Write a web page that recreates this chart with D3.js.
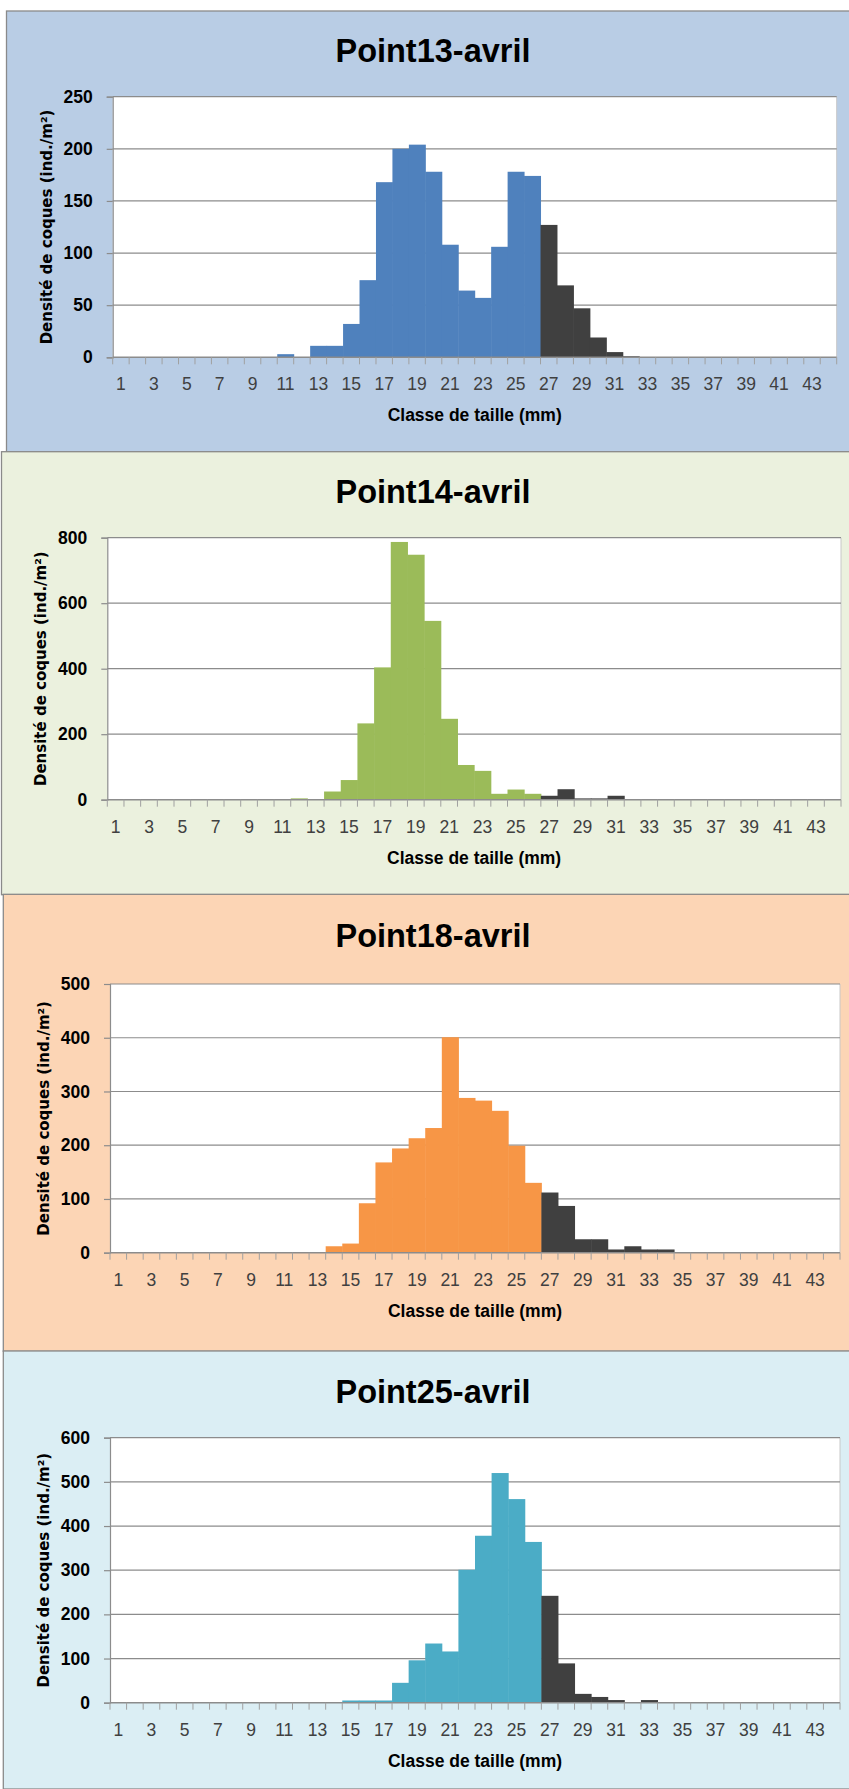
<!DOCTYPE html>
<html lang="fr">
<head>
<meta charset="UTF-8">
<title>Densité de coques</title>
<style>
  body { margin: 0; background: #fff; }
  svg { display: block; }
</style>
</head>
<body>
<script src="https://cdn.jsdelivr.net/npm/d3@7/dist/d3.min.js"></script>
<script>

// size classes (mm) and the labels shown under the axis
var categories = [1,2,3,4,5,6,7,8,9,10,11,12,13,14,15,16,17,18,19,20,21,22,
                  23,24,25,26,27,28,29,30,31,32,33,34,35,36,37,38,39,40,41,42,43,44];
var xTickLabels = [1,3,5,7,9,11,13,15,17,19,21,23,25,27,29,31,33,35,37,39,41,43];

var titles = ["Point13-avril", "Point14-avril", "Point18-avril", "Point25-avril"];

// density below 27 mm (coloured) and from 27 mm (dark), one value per class
var small13 = [0,0,0,0,0,0,0,0,0,0, 3,0,11,11,32,74,168,200,204,178, 108,64,57,106,178,174,
               0,0,0,0,0,0,0,0,0,0,0,0,0,0,0,0,0,0];
var large13 = [0,0,0,0,0,0,0,0,0,0, 0,0,0,0,0,0,0,0,0,0, 0,0,0,0,0,0,
               127,69,47,19,5,1,0,0,0,0,0,0,0,0,0,0,0,0];

var small14 = [0,0,0,0,0,0,0,0,0,0, 0,4,0,25,60,233,404,787,748,546, 247,106,88,18,31,18,
               0,0,0,0,0,0,0,0,0,0,0,0,0,0,0,0,0,0];
var large14 = [0,0,0,0,0,0,0,0,0,0, 0,0,0,0,0,0,0,0,0,0, 0,0,0,0,0,0,
               12,32,4,4,12,0,0,0,0,0,0,0,0,0,0,0,0,0];

var small18 = [0,0,0,0,0,0,0,0,0,0, 0,0,0,12,17,92,168,194,213,232, 401,288,283,264,199,130,
               0,0,0,0,0,0,0,0,0,0,0,0,0,0,0,0,0,0];
var large18 = [0,0,0,0,0,0,0,0,0,0, 0,0,0,0,0,0,0,0,0,0, 0,0,0,0,0,0,
               112,87,25,25,6,12,6,6,0,0,0,0,0,0,0,0,0,0];

var small25 = [0,0,0,0,0,0,0,0,0,0, 0,0,0,0,5,5,5,45,96,134, 116,301,378,520,461,364,
               0,0,0,0,0,0,0,0,0,0,0,0,0,0,0,0,0,0];
var large25 = [0,0,0,0,0,0,0,0,0,0, 0,0,0,0,0,0,0,0,0,0, 0,0,0,0,0,0,
               242,89,20,13,6,0,6,0,0,0,0,0,0,0,0,0,0,0];

var yMaxes = [250, 800, 500, 600];
var yTicks = [[0,50,100,150,200,250], [0,200,400,600,800],
              [0,100,200,300,400,500], [0,100,200,300,400,500,600]];

// look of each panel
var panels = [
  {small: small13, large: large13, bg: "#b9cde5", color: "#4f81bd",
   x: 6.5, y: 11, h: 441, titleY: 62, plot: {l: 112.7, t: 96.7, r: 836.7, b: 357.3}},
  {small: small14, large: large14, bg: "#ebf1de", color: "#9bbb59",
   x: 1.5, y: 451.7, h: 443, titleY: 502.7, plot: {l: 107.3, t: 537.7, r: 841, b: 799.7}},
  {small: small18, large: large18, bg: "#fcd5b5", color: "#f79646",
   x: 3.3, y: 894.3, h: 457, titleY: 947.3, plot: {l: 110, t: 984, r: 840, b: 1252.7}},
  {small: small25, large: large25, bg: "#dbeef4", color: "#4bacc6",
   x: 3.3, y: 1351, h: 438, titleY: 1402.7, plot: {l: 110, t: 1437.7, r: 840, b: 1702.7}}
];

var darkColor = "#404040";
var gridColor = "#8c8c8c";

var svg = d3.select("body").append("svg")
    .attr("width", 849)
    .attr("height", 1789);

panels.forEach(function(p, i) {
  var g = svg.append("g");

  // panel background
  g.append("rect")
      .attr("x", p.x)
      .attr("y", p.y)
      .attr("width", 900)
      .attr("height", p.h)
      .attr("fill", p.bg)
      .attr("stroke", "#8a8a8a")
      .attr("stroke-width", 1.3);

  var x = d3.scaleBand()
      .domain(categories)
      .range([p.plot.l, p.plot.r])
      .padding(0);
  var y = d3.scaleLinear()
      .domain([0, yMaxes[i]])
      .range([p.plot.b, p.plot.t]);

  // plot area
  g.append("rect")
      .attr("x", p.plot.l)
      .attr("y", p.plot.t)
      .attr("width", p.plot.r - p.plot.l)
      .attr("height", p.plot.b - p.plot.t)
      .attr("fill", "#fff");
  g.append("line")
      .attr("x1", p.plot.r).attr("x2", p.plot.r)
      .attr("y1", p.plot.t).attr("y2", p.plot.b)
      .attr("stroke", "#c8c8c8");

  // gridlines
  g.selectAll(".grid")
      .data(yTicks[i].slice(1))
      .enter().append("line")
      .attr("x1", p.plot.l)
      .attr("x2", p.plot.r)
      .attr("y1", function(d) { return y(d); })
      .attr("y2", function(d) { return y(d); })
      .attr("stroke", gridColor)
      .attr("stroke-width", 1.2);

  // bars
  function bars(values, color) {
    g.selectAll(null)
        .data(categories.map(function(c, k) { return {c: c, v: values[k]}; })
              .filter(function(d) { return d.v > 0; }))
        .enter().append("rect")
        .attr("x", function(d) { return x(d.c); })
        .attr("width", x.bandwidth() + 0.5)
        .attr("y", function(d) { return y(d.v); })
        .attr("height", function(d) { return y(0) - y(d.v); })
        .attr("fill", color);
  }
  bars(p.small, p.color);
  bars(p.large, darkColor);

  // y axis
  var ya = g.append("g")
      .attr("transform", "translate(" + p.plot.l + ",0)")
      .call(d3.axisLeft(y).tickValues(yTicks[i]).tickSize(6).tickPadding(14));
  ya.select(".domain").attr("stroke", gridColor).attr("stroke-width", 1.2);
  ya.selectAll(".tick line").attr("stroke", gridColor).attr("stroke-width", 1.2);
  ya.selectAll(".tick text")
      .attr("font-family", "'Liberation Sans', Arial, sans-serif")
      .attr("font-weight", "bold")
      .attr("font-size", 17.5)
      .attr("fill", "#000");

  // x axis: boundary ticks + odd labels
  g.append("line")
      .attr("x1", p.plot.l).attr("x2", p.plot.r)
      .attr("y1", y(0)).attr("y2", y(0))
      .attr("stroke", gridColor)
      .attr("stroke-width", 1.4);
  g.selectAll(".xtick")
      .data(categories.concat(["end"]))
      .enter().append("line")
      .attr("x1", function(d) { return d === "end" ? p.plot.r : x(d); })
      .attr("x2", function(d) { return d === "end" ? p.plot.r : x(d); })
      .attr("y1", y(0))
      .attr("y2", y(0) + 7)
      .attr("stroke", "#a0a0a0")
      .attr("stroke-width", 1);

  var xa = g.append("g")
      .attr("transform", "translate(0," + p.plot.b + ")")
      .call(d3.axisBottom(x).tickValues(xTickLabels).tickSize(0));
  xa.select(".domain").remove();
  xa.selectAll(".tick text")
      .attr("y", 33)
      .attr("dy", 0)
      .attr("font-family", "'Liberation Sans', Arial, sans-serif")
      .attr("font-size", 17.5)
      .attr("fill", "#404040");

  // titles
  g.append("text")
      .attr("x", 433)
      .attr("y", p.titleY)
      .attr("text-anchor", "middle")
      .attr("font-family", "'Liberation Sans', Arial, sans-serif")
      .attr("font-weight", "bold")
      .attr("font-size", 32.5)
      .attr("fill", "#000")
      .text(titles[i]);

  g.append("text")
      .attr("x", (p.plot.l + p.plot.r) / 2)
      .attr("y", p.plot.b + 64)
      .attr("text-anchor", "middle")
      .attr("font-family", "'Liberation Sans', Arial, sans-serif")
      .attr("font-weight", "bold")
      .attr("font-size", 17.5)
      .attr("fill", "#000")
      .text("Classe de taille (mm)");

  g.append("text")
      .attr("transform", "translate(" + (p.plot.l - 61) + "," + ((p.plot.t + p.plot.b) / 2) + ") rotate(-90)")
      .attr("text-anchor", "middle")
      .attr("font-family", "'DejaVu Sans', Verdana, sans-serif")
      .attr("font-weight", "bold")
      .attr("font-size", 15)
      .attr("fill", "#000")
      .text("Densité de coques (ind./m²)");
});

</script>
</body>
</html>
